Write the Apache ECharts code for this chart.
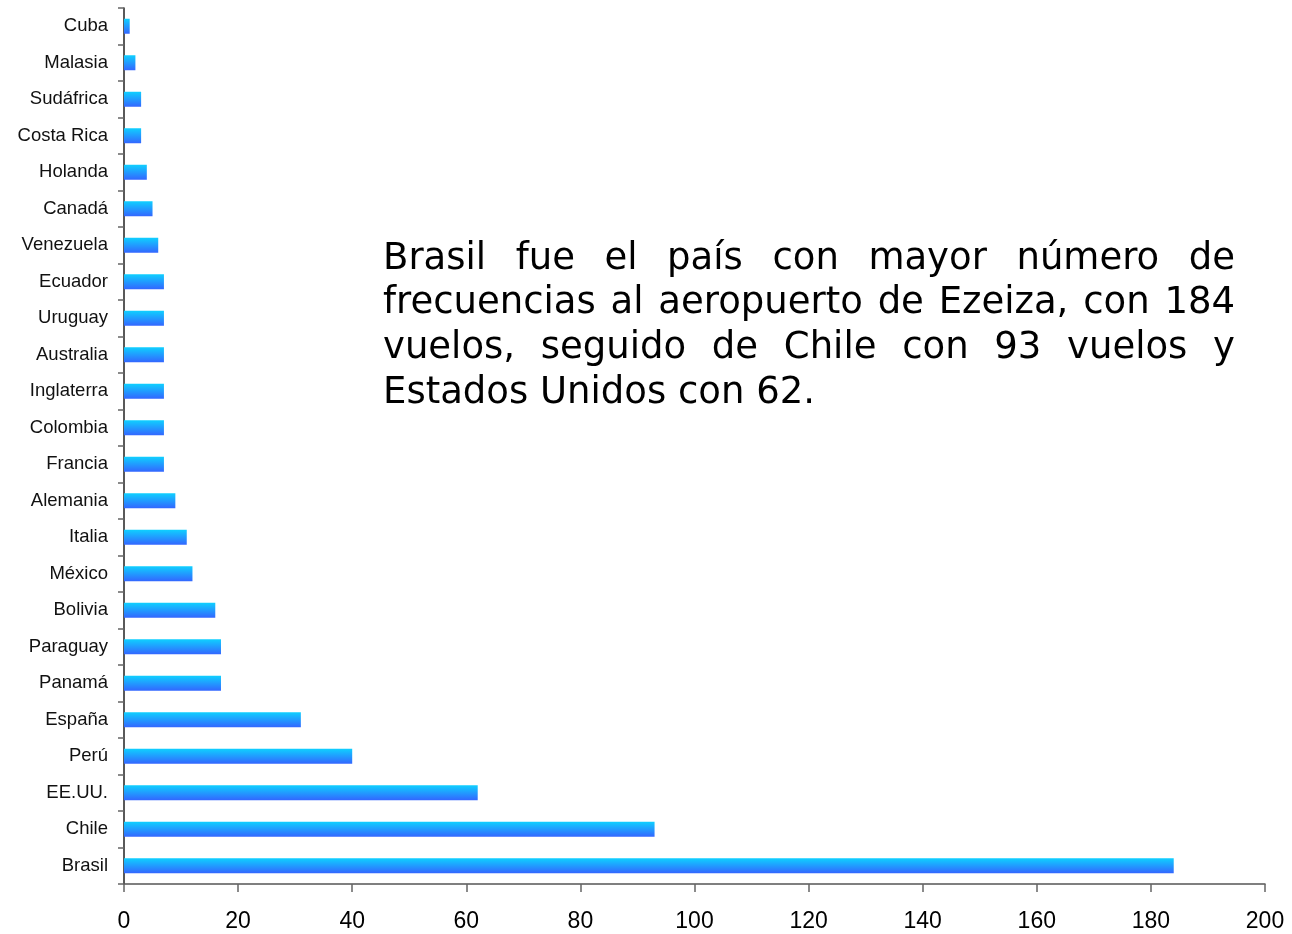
<!DOCTYPE html>
<html lang="es">
<head>
    <meta charset="UTF-8">
    <title>Frecuencias Ezeiza</title>
    <script src="https://cdn.jsdelivr.net/npm/echarts@6/dist/echarts.min.js"></script>
</head>
<style>
html,body{margin: 0;padding: 0;background-color: #fff}
#chartBox{width: 1292px;height: 934px}
</style>
<body>
    <div id="chartBox"></div>
</body>
<script>
// países, de arriba hacia abajo
const paises = ["Cuba", "Malasia", "Sudáfrica", "Costa Rica", "Holanda", "Canadá", "Venezuela",
    "Ecuador", "Uruguay", "Australia", "Inglaterra", "Colombia", "Francia", "Alemania", "Italia",
    "México", "Bolivia", "Paraguay", "Panamá", "España", "Perú", "EE.UU.", "Chile", "Brasil"];
const vuelos = [1, 2, 3, 3, 4, 5, 6, 7, 7, 7, 7, 7, 7, 9, 11, 12, 16, 17, 17, 31, 40, 62, 93, 184];
const ejeX = {min: 0, max: 200, interval: 20};
const notaLineas = [
    "Brasil fue el país con mayor número de",
    "frecuencias al aeropuerto de Ezeiza, con 184",
    "vuelos, seguido de Chile con 93 vuelos y",
    "Estados Unidos con 62."
];

const labelFont = '"Liberation Sans", Arial, sans-serif';
const notaFont = '"DejaVu Sans", Verdana, sans-serif';

// texto justificado: cada palabra como elemento graphic
function buildNota(lineas, left, right, firstMid, lineGap, fontSize) {
    let ctx = document.createElement('canvas').getContext('2d');
    ctx.font = fontSize + 'px ' + notaFont;
    let elems = [];
    let spaceW = ctx.measureText(' ').width;
    lineas.forEach((linea, i) => {
        let words = linea.split(' ');
        let widths = words.map(w => ctx.measureText(w).width);
        let total = widths.reduce((a, b) => a + b, 0);
        let gap = spaceW;
        if (i < lineas.length - 1 && words.length > 1) {
            gap = (right - left - total) / (words.length - 1);
        }
        let x = left;
        words.forEach((w, j) => {
            elems.push({
                type: 'text',
                x: x,
                y: firstMid + i * lineGap,
                style: {
                    text: w,
                    fontSize: fontSize,
                    fontFamily: notaFont,
                    fill: '#000',
                    align: 'left',
                    verticalAlign: 'middle'
                }
            });
            x += widths[j] + gap;
        });
    });
    return elems;
}

let chartObj = echarts.init(document.getElementById('chartBox'));
let option = {
    backgroundColor: '#fff',
    animation: false,
    grid: {left: 124, right: 27, top: 8, bottom: 50},
    xAxis: {
        type: 'value',
        min: ejeX.min,
        max: ejeX.max,
        interval: ejeX.interval,
        splitLine: {show: false},
        axisLine: {show: true, lineStyle: {color: '#555', width: 1.5}},
        axisTick: {show: true, length: 8, lineStyle: {color: '#666', width: 1.5}},
        axisLabel: {fontSize: 23, color: '#000', margin: 26, fontFamily: labelFont}
    },
    yAxis: {
        type: 'category',
        data: paises,
        inverse: true,
        axisLine: {show: true, lineStyle: {color: '#222', width: 1.5}},
        axisTick: {show: true, length: 6, lineStyle: {color: '#666', width: 1.5}},
        axisLabel: {fontSize: 18.5, color: '#111', margin: 16, fontFamily: labelFont}
    },
    series: [{
        type: 'bar',
        data: vuelos,
        barWidth: 15,
        itemStyle: {
            color: new echarts.graphic.LinearGradient(0, 0, 0, 1, [
                {offset: 0, color: '#0fd0ff'},
                {offset: 1, color: '#3366ff'}
            ])
        }
    }],
    graphic: buildNota(notaLineas, 383, 1235, 259, 44.7, 37)
};
chartObj.setOption(option);
</script>
</html>
